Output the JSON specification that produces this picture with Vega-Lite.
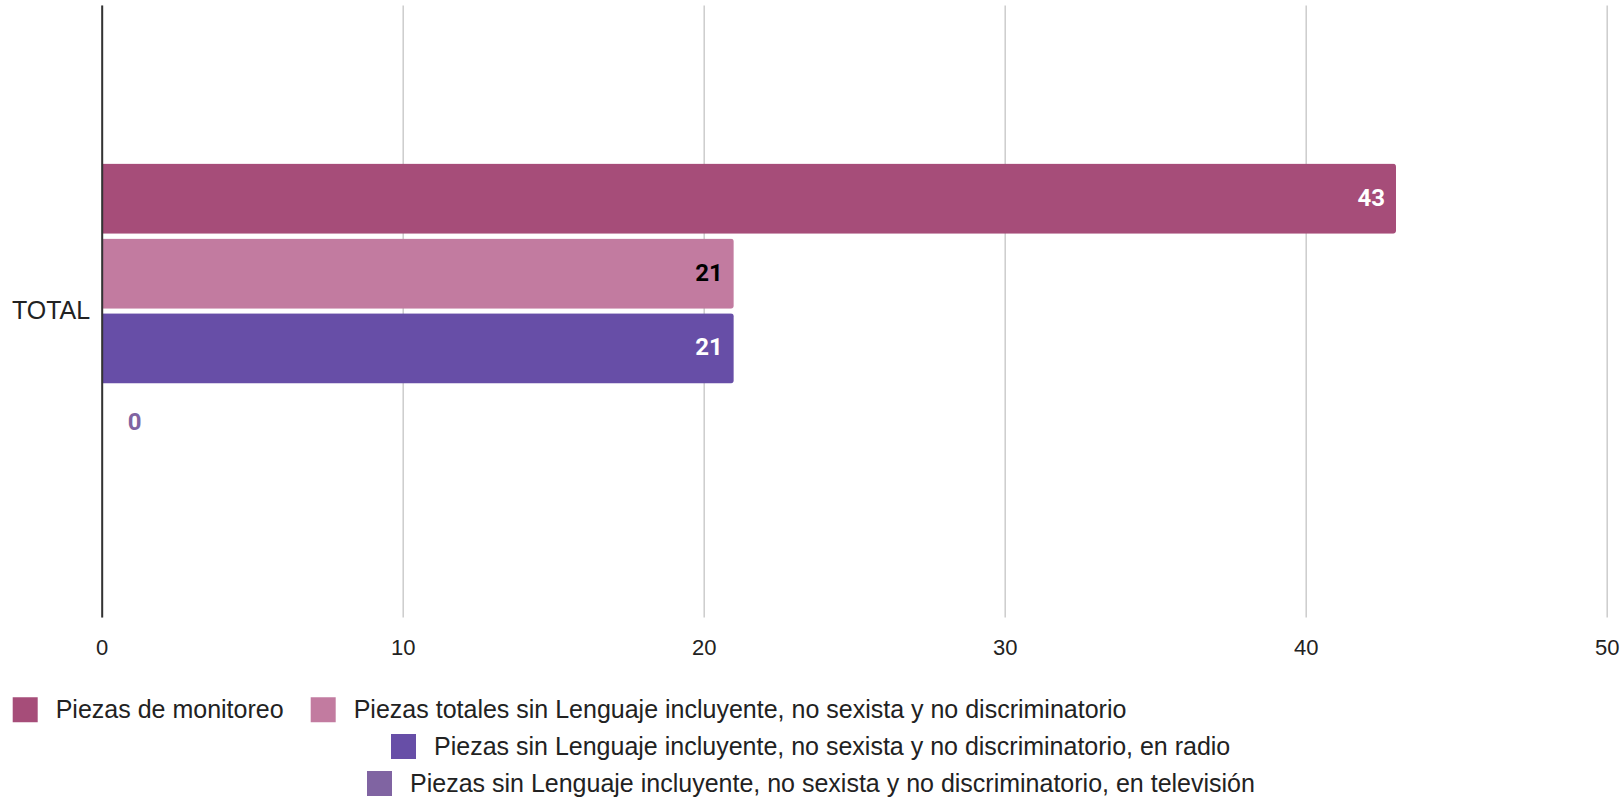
{
  "$schema": "https://vega.github.io/schema/vega-lite/v6.json",
  "width": 1505,
  "height": 612,
  "autosize": {"type": "none"},
  "padding": {"left": 101.7, "top": 5, "right": 14.3, "bottom": 181},
  "background": "white",
  "config": {"view": {"stroke": null}},
  "data": {"values": [
    {"cat": "TOTAL", "serie": "Piezas de monitoreo", "valor": 43},
    {"cat": "TOTAL", "serie": "Piezas totales sin Lenguaje incluyente, no sexista y no discriminatorio", "valor": 21},
    {"cat": "TOTAL", "serie": "Piezas sin Lenguaje incluyente, no sexista y no discriminatorio, en radio", "valor": 21},
    {"cat": "TOTAL", "serie": "Piezas sin Lenguaje incluyente, no sexista y no discriminatorio, en televisión", "valor": 0}
  ]},
  "encoding": {
    "y": {"field": "cat", "type": "nominal",
      "scale": {"paddingInner": 0, "paddingOuter": 0.537},
      "axis": {"title": null, "ticks": false, "grid": false, "labelFontSize": 25, "labelFont": "Liberation Sans", "labelColor": "#222222", "labelPadding": 12, "domainColor": "#333333", "domainWidth": 2, "zindex": 1}},
    "yOffset": {"field": "serie", "type": "nominal",
      "scale": {"domain": [
        "Piezas de monitoreo",
        "Piezas totales sin Lenguaje incluyente, no sexista y no discriminatorio",
        "Piezas sin Lenguaje incluyente, no sexista y no discriminatorio, en radio",
        "Piezas sin Lenguaje incluyente, no sexista y no discriminatorio, en televisión"
      ], "paddingInner": 0.063, "paddingOuter": 0}},
    "x": {"field": "valor", "type": "quantitative",
      "scale": {"domain": [0, 50], "nice": false},
      "axis": {"title": null, "values": [0, 10, 20, 30, 40, 50], "domain": false, "ticks": false, "grid": true, "gridColor": "#cccccc", "gridWidth": 1.5, "labelFontSize": 22, "labelFont": "Liberation Sans", "labelColor": "#222222", "labelPadding": 20, "labelFlush": false, "labelOverlap": false}}
  },
  "layer": [
    {
      "transform": [{"filter": "datum.serie === 'Piezas de monitoreo' || datum.serie === 'Piezas totales sin Lenguaje incluyente, no sexista y no discriminatorio'"}],
      "mark": {"type": "bar", "cornerRadiusEnd": 3},
      "encoding": {"color": {"field": "serie", "type": "nominal",
        "scale": {"domain": ["Piezas de monitoreo", "Piezas totales sin Lenguaje incluyente, no sexista y no discriminatorio"], "range": ["#a64d79", "#c27ba0"]},
        "legend": {"title": null, "orient": "none", "legendX": -89, "legendY": 692, "direction": "horizontal", "symbolType": "square", "symbolSize": 625, "symbolStrokeWidth": 0, "labelFontSize": 25, "labelFont": "Liberation Sans", "labelColor": "#222222", "labelOffset": 18, "columnPadding": 27, "padding": 0, "labelLimit": 0}}}
    },
    {
      "transform": [{"filter": "datum.serie === 'Piezas sin Lenguaje incluyente, no sexista y no discriminatorio, en radio'"}],
      "mark": {"type": "bar", "cornerRadiusEnd": 3},
      "encoding": {"color": {"field": "serie", "type": "nominal",
        "scale": {"domain": ["Piezas sin Lenguaje incluyente, no sexista y no discriminatorio, en radio"], "range": ["#674ea7"]},
        "legend": {"title": null, "orient": "none", "legendX": 289.3, "legendY": 729, "direction": "horizontal", "symbolType": "square", "symbolSize": 625, "symbolStrokeWidth": 0, "labelFontSize": 25, "labelFont": "Liberation Sans", "labelColor": "#222222", "labelOffset": 18, "padding": 0, "labelLimit": 0}}}
    },
    {
      "transform": [{"filter": "datum.serie === 'Piezas sin Lenguaje incluyente, no sexista y no discriminatorio, en televisión'"}],
      "mark": {"type": "bar", "cornerRadiusEnd": 3},
      "encoding": {"color": {"field": "serie", "type": "nominal",
        "scale": {"domain": ["Piezas sin Lenguaje incluyente, no sexista y no discriminatorio, en televisión"], "range": ["#8064a2"]},
        "legend": {"title": null, "orient": "none", "legendX": 265.3, "legendY": 766, "direction": "horizontal", "symbolType": "square", "symbolSize": 625, "symbolStrokeWidth": 0, "labelFontSize": 25, "labelFont": "Liberation Sans", "labelColor": "#222222", "labelOffset": 18, "padding": 0, "labelLimit": 0}}}
    },
    {
      "transform": [{"filter": "datum.serie === 'Piezas de monitoreo' || datum.serie === 'Piezas sin Lenguaje incluyente, no sexista y no discriminatorio, en radio'"}],
      "mark": {"type": "text", "align": "right", "baseline": "middle", "dx": -11, "font": "Roboto", "fontWeight": "bold", "fontSize": 24, "color": "#ffffff"},
      "encoding": {"text": {"field": "valor", "type": "quantitative"}}
    },
    {
      "transform": [{"filter": "datum.serie === 'Piezas totales sin Lenguaje incluyente, no sexista y no discriminatorio'"}],
      "mark": {"type": "text", "align": "right", "baseline": "middle", "dx": -11, "font": "Roboto", "fontWeight": "bold", "fontSize": 24, "color": "#000000"},
      "encoding": {"text": {"field": "valor", "type": "quantitative"}}
    },
    {
      "transform": [{"filter": "datum.valor === 0"}],
      "mark": {"type": "text", "align": "left", "baseline": "middle", "dx": 26, "font": "Roboto", "fontWeight": "bold", "fontSize": 24, "color": "#8064a2"},
      "encoding": {"text": {"field": "valor", "type": "quantitative"}}
    }
  ],
  "resolve": {"scale": {"color": "independent"}, "legend": {"color": "independent"}}
}
